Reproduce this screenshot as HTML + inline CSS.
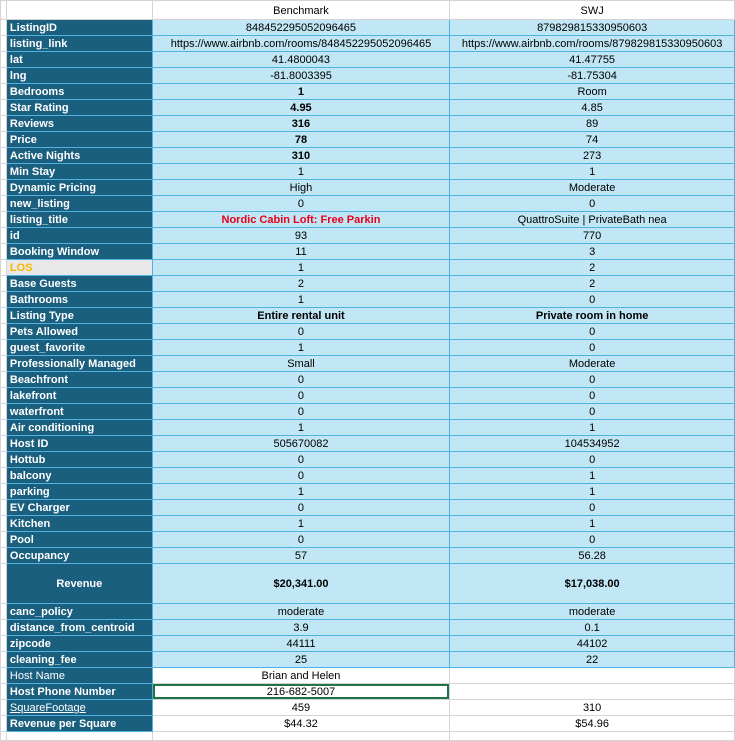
<!DOCTYPE html>
<html><head><style>
body{margin:0;background:#fff;width:735px;height:739px;overflow:hidden;font-family:"Liberation Sans",sans-serif;font-size:11px;}
table{border-collapse:collapse;table-layout:fixed;position:absolute;left:0;top:0;}
td{padding:1px 3px 0 3px;height:14px;line-height:14px;white-space:nowrap;overflow:hidden;border:1px solid #d4d4d4;color:#000;}
td.g{padding:0;border-color:#d4d4d4;}
td.a{background:#1b5f7f;color:#fff;font-weight:bold;text-align:left;border:1px solid #4fb2e3;}
td.b{background:#c1e6f5;text-align:center;border:1px solid #4fb2e3;}
td.w{background:#fff;text-align:center;}
td.h{text-align:center;}
.bold{font-weight:bold}
.red{color:#e8001c;font-weight:bold}
</style></head><body>
<table>
<colgroup><col style="width:6px"><col style="width:146px"><col style="width:298px"><col style="width:285px"></colgroup>
<tr><td class="g" style="height:17px"></td><td style="height:17px"></td><td class="h" style="height:17px">Benchmark</td><td class="h" style="height:17px">SWJ</td></tr>
<tr><td class="g"></td><td class="a">ListingID</td><td class="b">848452295052096465</td><td class="b">879829815330950603</td></tr>
<tr><td class="g"></td><td class="a">listing_link</td><td class="b">https://www.airbnb.com/rooms/848452295052096465</td><td class="b">https://www.airbnb.com/rooms/879829815330950603</td></tr>
<tr><td class="g"></td><td class="a">lat</td><td class="b">41.4800043</td><td class="b">41.47755</td></tr>
<tr><td class="g"></td><td class="a">lng</td><td class="b">-81.8003395</td><td class="b">-81.75304</td></tr>
<tr><td class="g"></td><td class="a">Bedrooms</td><td class="b bold">1</td><td class="b">Room</td></tr>
<tr><td class="g"></td><td class="a">Star Rating</td><td class="b bold">4.95</td><td class="b">4.85</td></tr>
<tr><td class="g"></td><td class="a">Reviews</td><td class="b bold">316</td><td class="b">89</td></tr>
<tr><td class="g"></td><td class="a">Price</td><td class="b bold">78</td><td class="b">74</td></tr>
<tr><td class="g"></td><td class="a">Active Nights</td><td class="b bold">310</td><td class="b">273</td></tr>
<tr><td class="g"></td><td class="a">Min Stay</td><td class="b">1</td><td class="b">1</td></tr>
<tr><td class="g"></td><td class="a">Dynamic Pricing</td><td class="b">High</td><td class="b">Moderate</td></tr>
<tr><td class="g"></td><td class="a">new_listing</td><td class="b">0</td><td class="b">0</td></tr>
<tr><td class="g"></td><td class="a">listing_title</td><td class="b red">Nordic Cabin Loft: Free Parkin</td><td class="b">QuattroSuite | PrivateBath nea</td></tr>
<tr><td class="g"></td><td class="a">id</td><td class="b">93</td><td class="b">770</td></tr>
<tr><td class="g"></td><td class="a">Booking Window</td><td class="b">11</td><td class="b">3</td></tr>
<tr><td class="g"></td><td class="a" style="background:#e8e8e8;color:#f5b800">LOS</td><td class="b">1</td><td class="b">2</td></tr>
<tr><td class="g"></td><td class="a">Base Guests</td><td class="b">2</td><td class="b">2</td></tr>
<tr><td class="g"></td><td class="a">Bathrooms</td><td class="b">1</td><td class="b">0</td></tr>
<tr><td class="g"></td><td class="a">Listing Type</td><td class="b bold">Entire rental unit</td><td class="b bold">Private room in home</td></tr>
<tr><td class="g"></td><td class="a">Pets Allowed</td><td class="b">0</td><td class="b">0</td></tr>
<tr><td class="g"></td><td class="a">guest_favorite</td><td class="b">1</td><td class="b">0</td></tr>
<tr><td class="g"></td><td class="a">Professionally Managed</td><td class="b">Small</td><td class="b">Moderate</td></tr>
<tr><td class="g"></td><td class="a">Beachfront</td><td class="b">0</td><td class="b">0</td></tr>
<tr><td class="g"></td><td class="a">lakefront</td><td class="b">0</td><td class="b">0</td></tr>
<tr><td class="g"></td><td class="a">waterfront</td><td class="b">0</td><td class="b">0</td></tr>
<tr><td class="g"></td><td class="a">Air conditioning</td><td class="b">1</td><td class="b">1</td></tr>
<tr><td class="g"></td><td class="a">Host ID</td><td class="b">505670082</td><td class="b">104534952</td></tr>
<tr><td class="g"></td><td class="a">Hottub</td><td class="b">0</td><td class="b">0</td></tr>
<tr><td class="g"></td><td class="a">balcony</td><td class="b">0</td><td class="b">1</td></tr>
<tr><td class="g"></td><td class="a">parking</td><td class="b">1</td><td class="b">1</td></tr>
<tr><td class="g"></td><td class="a">EV Charger</td><td class="b">0</td><td class="b">0</td></tr>
<tr><td class="g"></td><td class="a">Kitchen</td><td class="b">1</td><td class="b">1</td></tr>
<tr><td class="g"></td><td class="a">Pool</td><td class="b">0</td><td class="b">0</td></tr>
<tr><td class="g"></td><td class="a">Occupancy</td><td class="b">57</td><td class="b">56.28</td></tr>
<tr><td class="g" style="height:38px"></td><td class="a" style="text-align:center;height:38px">Revenue</td><td class="b bold" style="height:38px">$20,341.00</td><td class="b bold" style="height:38px">$17,038.00</td></tr>
<tr><td class="g"></td><td class="a">canc_policy</td><td class="b">moderate</td><td class="b">moderate</td></tr>
<tr><td class="g"></td><td class="a">distance_from_centroid</td><td class="b">3.9</td><td class="b">0.1</td></tr>
<tr><td class="g"></td><td class="a">zipcode</td><td class="b">44111</td><td class="b">44102</td></tr>
<tr><td class="g"></td><td class="a">cleaning_fee</td><td class="b">25</td><td class="b">22</td></tr>
<tr><td class="g"></td><td class="a" style="font-weight:normal">Host Name</td><td class="w">Brian and Helen</td><td class="w"></td></tr>
<tr><td class="g"></td><td class="a">Host Phone Number</td><td class="w" style="box-shadow:inset 0 0 0 2px #217346">216-682-5007</td><td class="w"></td></tr>
<tr><td class="g"></td><td class="a" style="font-weight:normal;text-decoration:underline">SquareFootage</td><td class="w">459</td><td class="w">310</td></tr>
<tr><td class="g"></td><td class="a">Revenue per Square</td><td class="w">$44.32</td><td class="w">$54.96</td></tr>
<tr><td class="g" style="height:7px"></td><td style="height:7px"></td><td style="height:7px"></td><td style="height:7px"></td></tr>
</table>
</body></html>
